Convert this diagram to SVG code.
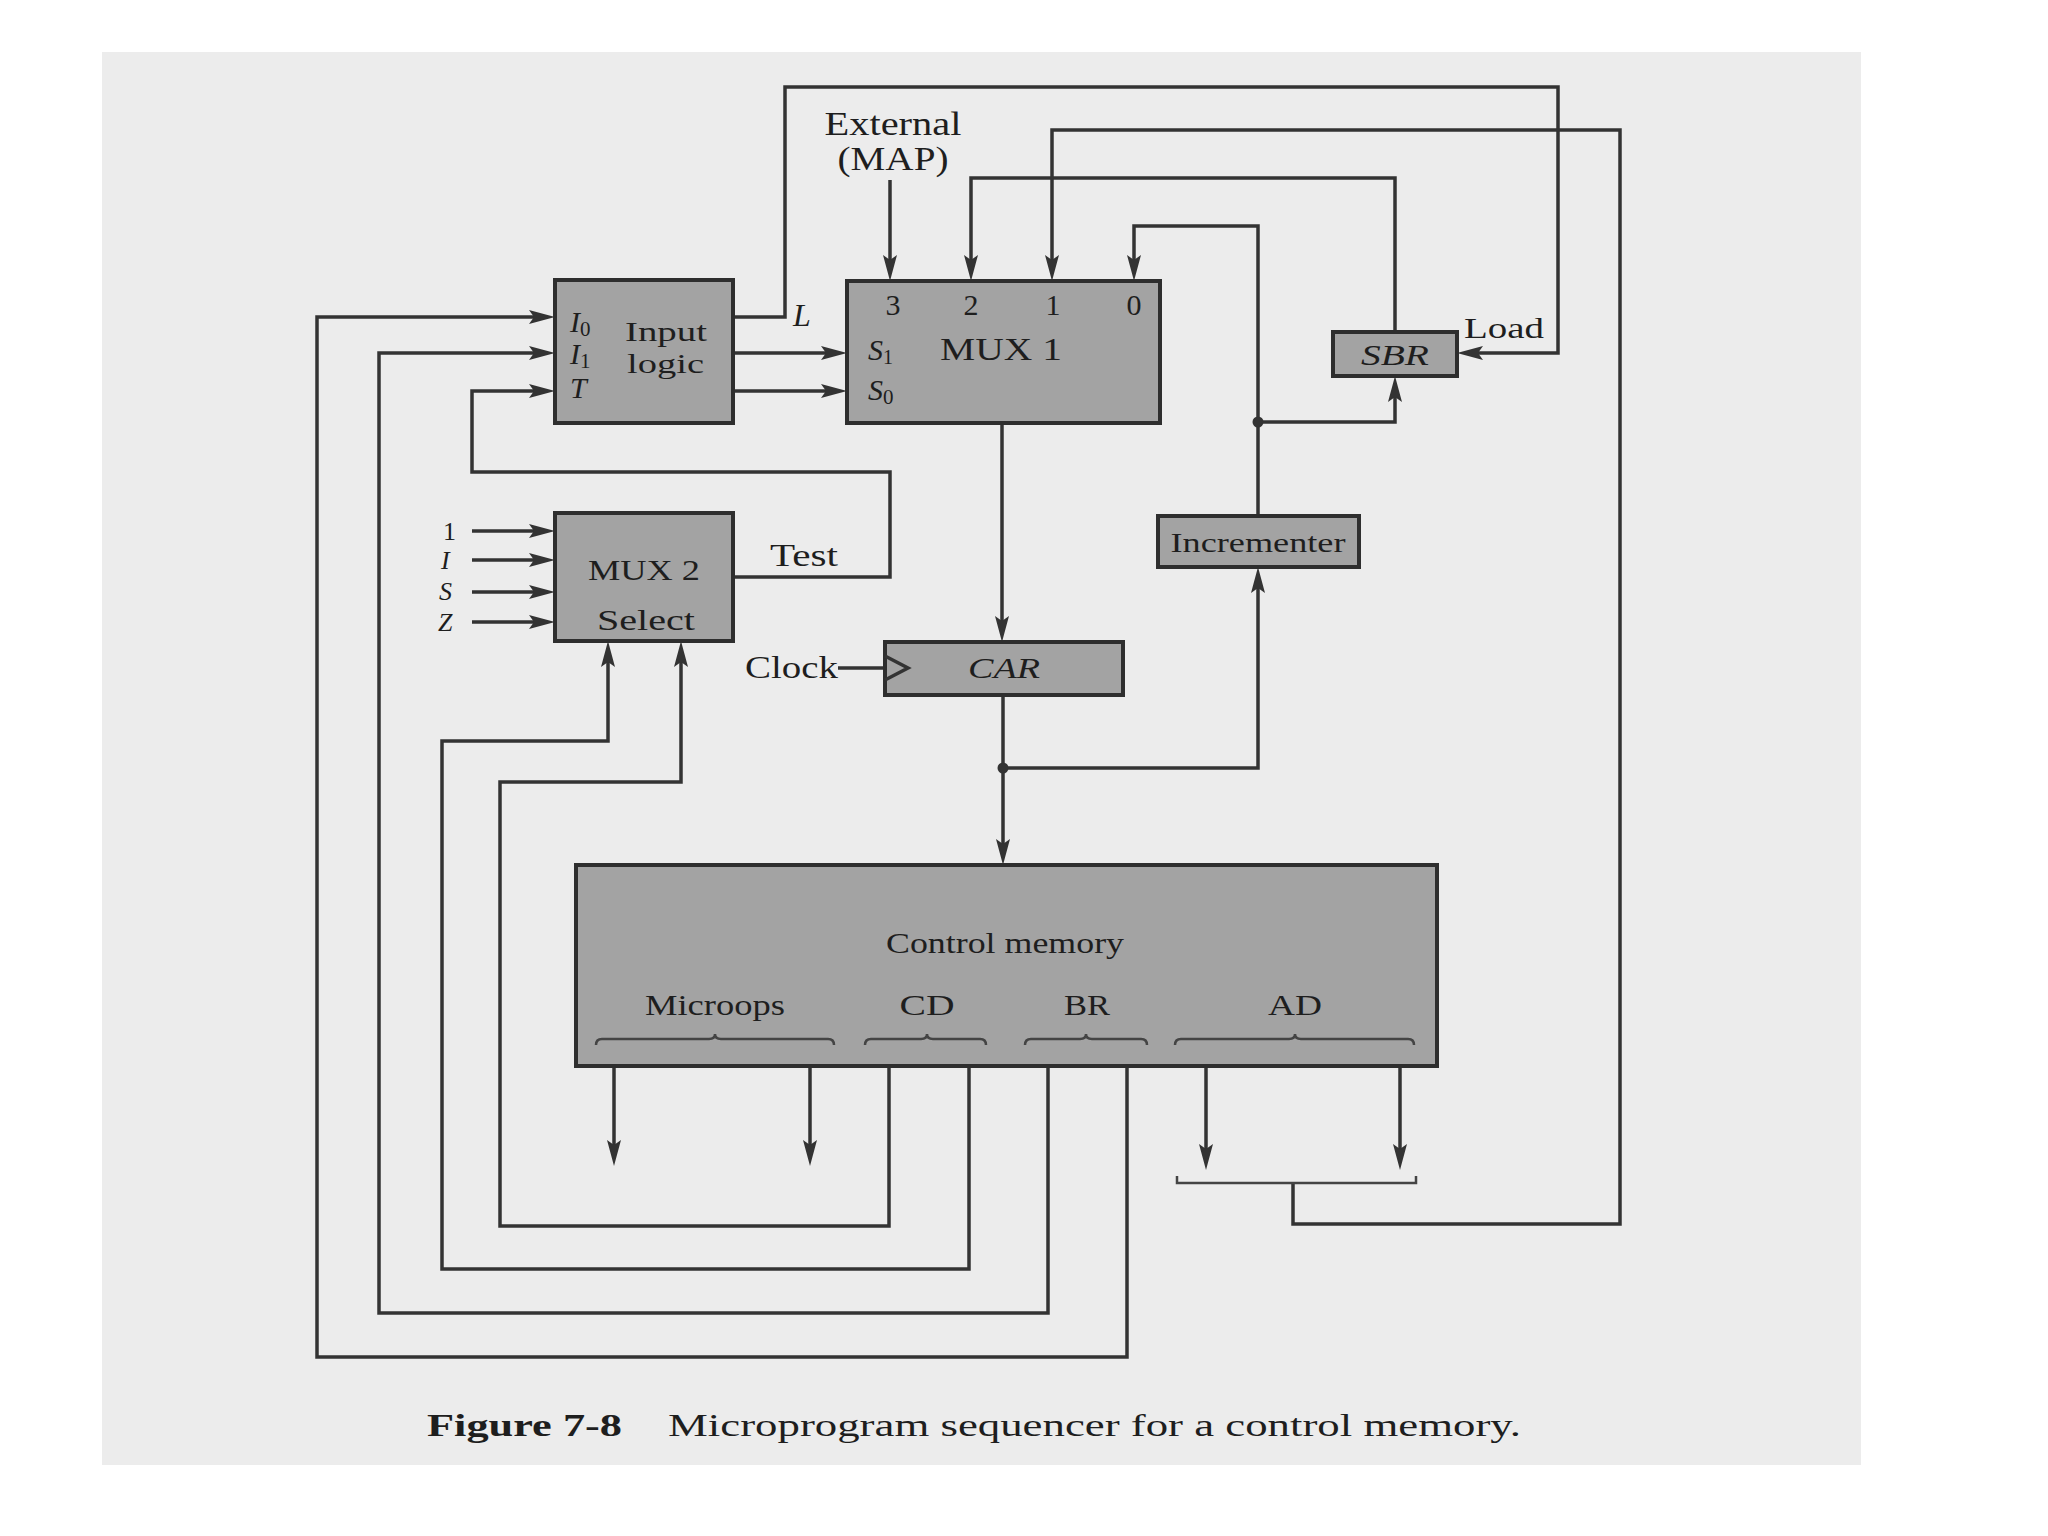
<svg xmlns="http://www.w3.org/2000/svg" width="2048" height="1536" viewBox="0 0 2048 1536" font-size="32">
<defs>
<style>
.box{fill:#a3a3a3;stroke:#2e2e2e;stroke-width:4}
.w{fill:none;stroke:#333;stroke-width:3.5;stroke-linejoin:miter}
.wa{fill:none;stroke:#333;stroke-width:3.5;marker-end:url(#arr)}
.thin{fill:none;stroke:#444;stroke-width:2.5}
.t{font-family:"Liberation Serif","Times New Roman",serif;fill:#1e1e1e}
.i{font-style:italic}
.c{text-anchor:middle}
</style>
<marker id="arr" markerUnits="userSpaceOnUse" markerWidth="28" markerHeight="18" refX="18" refY="8" orient="auto" viewBox="0 0 28 18">
<path d="M0,1 L26,8 L0,15 L5,8 z" fill="#333"/>
</marker>
</defs>
<rect x="0" y="0" width="2048" height="1536" fill="#ffffff"/>
<rect x="102" y="52" width="1759" height="1413" fill="#ececec"/>

<g id="connectors">
<path class="wa" d="M1127,1066 V1357 H317 V317 H547"/>
<path class="wa" d="M1048,1066 V1313 H379 V353 H547"/>
<path class="wa" d="M733,577 H890 V472 H472 V391 H547"/>
<path class="wa" d="M889,1066 V1226 H500 V782 H681 V649"/>
<path class="wa" d="M969,1066 V1269 H442 V741 H608 V649"/>
<path class="wa" d="M733,317 H785 V87 H1558 V353 H1465"/>
<path class="wa" d="M733,353 H839"/>
<path class="wa" d="M733,391 H839"/>
<path class="wa" d="M890,180 V273"/>
<path class="wa" d="M1395,332 V178 H971 V273"/>
<path class="wa" d="M1293,1183 V1224 H1620 V130 H1052 V273"/>
<path class="wa" d="M1258,516 V226 H1134 V273"/>
<path class="wa" d="M1258,422 H1395 V384"/>
<path class="wa" d="M1002,423 V634"/>
<path class="wa" d="M1003,695 V857"/>
<path class="wa" d="M1003,768 H1258 V575"/>
<path class="w" d="M838,668 H885"/>
<path class="wa" d="M614,1066 V1158"/>
<path class="wa" d="M810,1066 V1158"/>
<path class="wa" d="M1206,1066 V1162"/>
<path class="wa" d="M1400,1066 V1162"/>
<path class="thin" d="M1177,1176 V1183 H1416 V1176"/>
<path class="wa" d="M472,531 H547"/>
<path class="wa" d="M472,560 H547"/>
<path class="wa" d="M472,592 H547"/>
<path class="wa" d="M472,622 H547"/>
<circle cx="1258" cy="422" r="5.5" fill="#333"/>
<circle cx="1003" cy="768" r="5.5" fill="#333"/>
</g>

<g id="external-map">
<text class="t c" x="893" y="135" font-size="33" textLength="137" lengthAdjust="spacingAndGlyphs">External</text>
<text class="t c" x="893" y="170" font-size="33" textLength="111" lengthAdjust="spacingAndGlyphs">(MAP)</text>
</g>

<g id="input-logic">
<rect class="box" x="555" y="280" width="178" height="143"/>
<text class="t i" x="570" y="332" font-size="30">I<tspan font-style="normal" font-size="21" dy="4">0</tspan></text>
<text class="t i" x="570" y="364" font-size="30">I<tspan font-style="normal" font-size="21" dy="4">1</tspan></text>
<text class="t i" x="570" y="398" font-size="30">T</text>
<text class="t" x="625" y="341" font-size="27" textLength="82" lengthAdjust="spacingAndGlyphs">Input</text>
<text class="t" x="627" y="373" font-size="27" textLength="77" lengthAdjust="spacingAndGlyphs">logic</text>
<text class="t i" x="793" y="326" font-size="32">L</text>
</g>

<g id="mux1">
<rect class="box" x="847" y="281" width="313" height="142"/>
<text class="t c" x="893" y="315" font-size="30">3</text>
<text class="t c" x="971" y="315" font-size="30">2</text>
<text class="t c" x="1053" y="315" font-size="30">1</text>
<text class="t c" x="1134" y="315" font-size="30">0</text>
<text class="t i" x="868" y="360" font-size="30">S<tspan font-style="normal" font-size="20" dy="4">1</tspan></text>
<text class="t i" x="868" y="400" font-size="30">S<tspan font-style="normal" font-size="21" dy="4">0</tspan></text>
<text class="t" x="940" y="360" font-size="32" textLength="122" lengthAdjust="spacingAndGlyphs">MUX 1</text>
</g>

<g id="sbr">
<rect class="box" x="1333" y="332" width="124" height="44"/>
<text class="t i c" x="1395" y="365" font-size="30" textLength="68" lengthAdjust="spacingAndGlyphs">SBR</text>
<text class="t" x="1464" y="338" font-size="30" textLength="80" lengthAdjust="spacingAndGlyphs">Load</text>
</g>

<g id="incrementer">
<rect class="box" x="1158" y="516" width="201" height="51"/>
<text class="t c" x="1258" y="552" font-size="28" textLength="175" lengthAdjust="spacingAndGlyphs">Incrementer</text>
</g>

<g id="mux2">
<rect class="box" x="555" y="513" width="178" height="128"/>
<text class="t c" x="644" y="580" font-size="30" textLength="112" lengthAdjust="spacingAndGlyphs">MUX 2</text>
<text class="t c" x="646" y="630" font-size="30" textLength="98" lengthAdjust="spacingAndGlyphs">Select</text>
<text class="t" x="770" y="566" font-size="31" textLength="68" lengthAdjust="spacingAndGlyphs">Test</text>
<text class="t" x="443" y="540" font-size="26">1</text>
<text class="t i" x="441" y="569" font-size="26">I</text>
<text class="t i" x="439" y="600" font-size="26">S</text>
<text class="t i" x="438" y="631" font-size="26">Z</text>
</g>

<g id="car">
<rect class="box" x="885" y="642" width="238" height="53"/>
<path class="w" d="M885,656 L908,668 L885,680" stroke-width="3"/>
<text class="t i c" x="1004" y="678" font-size="30" textLength="72" lengthAdjust="spacingAndGlyphs">CAR</text>
<text class="t" x="745" y="678" font-size="32" textLength="93" lengthAdjust="spacingAndGlyphs">Clock</text>
</g>

<g id="control-memory">
<rect class="box" x="576" y="865" width="861" height="201"/>
<text class="t c" x="1005" y="953" font-size="29" textLength="238" lengthAdjust="spacingAndGlyphs">Control memory</text>
<text class="t c" x="715" y="1015" font-size="29" textLength="140" lengthAdjust="spacingAndGlyphs">Microops</text>
<text class="t c" x="927" y="1015" font-size="29" textLength="55" lengthAdjust="spacingAndGlyphs">CD</text>
<text class="t c" x="1087" y="1015" font-size="29" textLength="46" lengthAdjust="spacingAndGlyphs">BR</text>
<text class="t c" x="1295" y="1015" font-size="29" textLength="54" lengthAdjust="spacingAndGlyphs">AD</text>
<path class="thin" d="M596,1045 Q596,1039 602,1039 H709 Q715,1039 715,1034 Q715,1039 721,1039 H828 Q834,1039 834,1045"/>
<path class="thin" d="M865,1045 Q865,1039 871,1039 H921 Q927,1039 927,1034 Q927,1039 933,1039 H980 Q986,1039 986,1045"/>
<path class="thin" d="M1025,1045 Q1025,1039 1031,1039 H1080 Q1086,1039 1086,1034 Q1086,1039 1092,1039 H1141 Q1147,1039 1147,1045"/>
<path class="thin" d="M1175,1045 Q1175,1039 1181,1039 H1289 Q1295,1039 1295,1034 Q1295,1039 1301,1039 H1408 Q1414,1039 1414,1045"/>
</g>

<g id="caption">
<text class="t" x="427" y="1436" font-size="32" font-weight="bold" textLength="195" lengthAdjust="spacingAndGlyphs">Figure 7-8</text>
<text class="t" x="668" y="1436" font-size="32" textLength="853" lengthAdjust="spacingAndGlyphs">Microprogram sequencer for a control memory.</text>
</g>
</svg>
